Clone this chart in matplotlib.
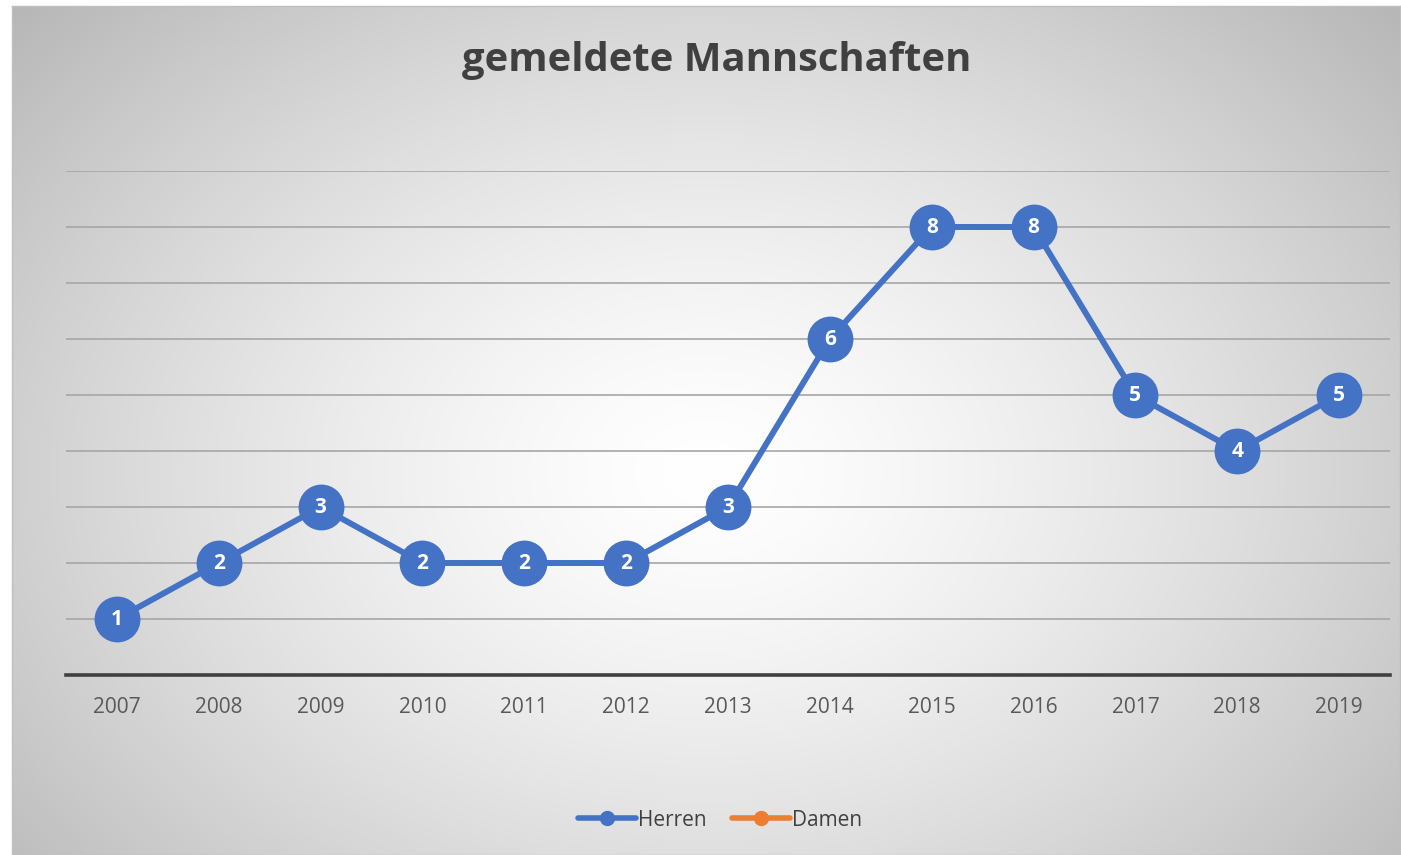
import matplotlib.pyplot as plt
import numpy as np
from matplotlib.lines import Line2D

years = ["2007", "2008", "2009", "2010", "2011", "2012", "2013",
         "2014", "2015", "2016", "2017", "2018", "2019"]
herren = [1, 2, 3, 2, 2, 2, 3, 6, 8, 8, 5, 4, 5]
damen = []  # no values shown

title = "gemeldete Mannschaften"
blue = "#4472C4"
orange = "#ED7D31"

W, H = 1401, 855
fig = plt.figure(figsize=(W / 100, H / 100), dpi=100)
fig.patch.set_facecolor("white")

# chart box with radial gradient background
bx0, by0, bx1, by1 = 12, 6, 1400, 855
bg = fig.add_axes([bx0 / W, 1 - by1 / H, (bx1 - bx0) / W, (by1 - by0) / H])
gx = np.linspace(0, 1, 400)
gy = np.linspace(0, 1, 300)
GX, GY = np.meshgrid(gx, gy)
r = np.sqrt(((GX - 0.5) / 0.6) ** 2 + ((GY - 0.55) / 0.72) ** 2)
val = 1.0 - 0.24 * np.clip(r, 0, 1.2) ** 1.4
bg.imshow(np.dstack([val, val, val]), aspect="auto", extent=[0, 1, 0, 1],
          interpolation="bilinear")
bg.set_xticks([])
bg.set_yticks([])
for s in bg.spines.values():
    s.set_color("#bfbfbf")
    s.set_linewidth(1)

# plot area
px0, px1 = 66, 1390
py_top, py_bot = 171, 675
ax = fig.add_axes([px0 / W, 1 - py_bot / H, (px1 - px0) / W, (py_bot - py_top) / H])
ax.set_facecolor("none")
x = np.arange(len(years))
ax.set_xlim(-0.5, len(years) - 0.5)
ax.set_ylim(0, 9)
ax.set_yticks(range(1, 10))
ax.yaxis.grid(True, color="#a6a6a6", linewidth=1.2)
ax.set_axisbelow(True)
ax.tick_params(axis="y", left=False, labelleft=False)
ax.set_xticks(x)
ax.set_xticklabels(years, fontsize=15, color="#595959", family="Open Sans")
ax.tick_params(axis="x", length=0, pad=16)
for k in ["top", "right", "left"]:
    ax.spines[k].set_visible(False)
ax.spines["bottom"].set_color("#404040")
ax.spines["bottom"].set_linewidth(2.6)

ax.plot(x, herren, color=blue, linewidth=4.3, marker="o", markersize=32,
        markerfacecolor=blue, markeredgecolor=blue, solid_capstyle="round",
        zorder=3, clip_on=False)
for xi, v in zip(x, herren):
    ax.text(xi, v, str(v), ha="center", va="center", color="white",
            fontsize=15, fontweight="bold", family="Open Sans", zorder=4)

fig.text(717 / W, 1 - 60 / H, title, ha="center", va="center", fontsize=28.8,
         fontweight="bold", color="#404040", family="Open Sans")

handles = [
    Line2D([], [], color=blue, linewidth=4, marker="o", markersize=10,
           solid_capstyle="round"),
    Line2D([], [], color=orange, linewidth=4, marker="o", markersize=10,
           solid_capstyle="round"),
]
fig.legend(handles, ["Herren", "Damen"], loc="center", bbox_to_anchor=(720 / W, 1 - 820 / H),
           ncol=2, frameon=False, handlelength=2.8, handletextpad=0.1, columnspacing=1.2,
           prop={"family": "Open Sans", "size": 15}, labelcolor="#404040")

fig.savefig("out.png", dpi=100)
